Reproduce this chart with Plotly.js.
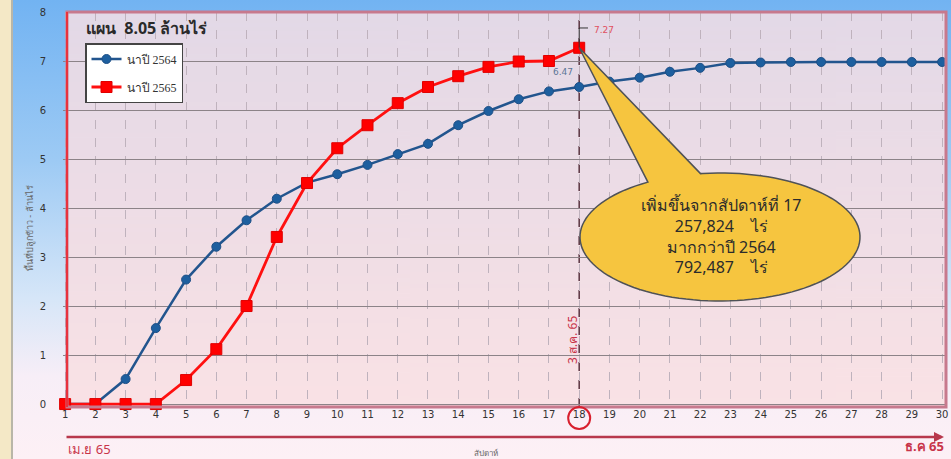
<!DOCTYPE html>
<html>
<head>
<meta charset="utf-8">
<script src="https://cdn.plot.ly/plotly-3.0.1.min.js"></script>
<style>
  html, body { margin: 0; padding: 0; }
  #wrap { position: relative; width: 951px; height: 459px; overflow: hidden;
    background: linear-gradient(to bottom, #72b3f2 0%, #9dcaf4 35%, #d6e6f8 65%, #f7eef7 82%, #fdf0f5 100%); }
  #strip { position: absolute; left: 0; top: 0; width: 11px; height: 459px; background: #f4e8c6; border-right: 2px solid #b9b6a8; }
  #chart { position: absolute; left: 0; top: 0; width: 951px; height: 459px; }
</style>
</head>
<body>
<div id="wrap"><div id="strip"></div><div id="chart"></div></div>
<script>
// ---- data ----
var weeks = [1,2,3,4,5,6,7,8,9,10,11,12,13,14,15,16,17,18,19,20,21,22,23,24,25,26,27,28,29,30];
var area2564 = [0,0,0.51,1.55,2.54,3.21,3.75,4.19,4.52,4.69,4.88,5.10,5.31,5.69,5.98,6.22,6.38,6.47,6.58,6.66,6.78,6.86,6.96,6.97,6.98,6.98,6.98,6.98,6.98,6.98];
var weeks2565 = [1,2,3,4,5,6,7,8,9,10,11,12,13,14,15,16,17,18];
var area2565 = [0,0,0,0,0.49,1.12,2.00,3.41,4.51,5.22,5.69,6.14,6.47,6.69,6.88,6.99,7.00,7.27];
var seriesNames = ['นาปี 2564', 'นาปี 2565'];
var yTicks = [0,1,2,3,4,5,6,7,8];
var currentWeek = 18;
var calloutLines = ['เพิ่มขึ้นจากสัปดาห์ที่ 17', '257,824\u00a0\u00a0\u00a0\u00a0ไร่', 'มากกว่าปี 2564', '792,487\u00a0\u00a0\u00a0\u00a0ไร่'];

// ---- geometry helpers ----
var ML = 63, MT = 12, PW = 883, PH = 395;
var XR = [0.93, 30.13], YR = [-0.06, 8.0];
function xp(px) { return (px - ML) / PW; }
function yp(py) { return (MT + PH - py) / PH; }
function xd(px) { return XR[0] + (px - ML) / PW * (XR[1] - XR[0]); }
function yd(py) { return YR[1] - (py - MT) / PH * (YR[1] - YR[0]); }

// plot background gradient
var cv = document.createElement('canvas'); cv.width = 4; cv.height = 200;
var cx = cv.getContext('2d');
var g = cx.createLinearGradient(0, 0, 0, 200);
g.addColorStop(0, '#e3d9e7'); g.addColorStop(0.5, '#eedde6'); g.addColorStop(1, '#fae2e5');
cx.fillStyle = g; cx.fillRect(0, 0, 4, 200);
var bgURL = cv.toDataURL();

// callout path (ellipse with tail), in data coordinates
var ecx = 720, ecy = 237, erx = 140, ery = 64;
var tipX = currentWeek, tipY = area2565[area2565.length - 1];
var pts = [];
for (var a = 121; a <= 458; a += 3) {
  var r = a * Math.PI / 180;
  pts.push([xd(ecx + erx * Math.cos(r)), yd(ecy - ery * Math.sin(r))]);
}
var r2 = 458 * Math.PI / 180;
pts.push([xd(ecx + erx * Math.cos(r2)), yd(ecy - ery * Math.sin(r2))]);
var path = 'M' + tipX + ',' + tipY;
pts.forEach(function (p) { path += ' L' + p[0].toFixed(4) + ',' + p[1].toFixed(4); });
path += ' Z';

var traces = [
  { x: weeks, y: area2564, name: seriesNames[0], type: 'scatter', mode: 'lines+markers',
    legendgroup: 'a', cliponaxis: false,
    line: { color: '#22558e', width: 2.5 },
    marker: { symbol: 'circle', size: 9, color: '#1d5f9f', line: { color: '#1d4f86', width: 1 } } },
  { x: weeks2565, y: area2565, name: seriesNames[1], type: 'scatter', mode: 'lines+markers',
    legendgroup: 'b', cliponaxis: false,
    line: { color: '#ff1010', width: 2.8 },
    marker: { symbol: 'square', size: 11, color: '#ff0000', line: { color: '#e00000', width: 1 } } }
];

var thai = 'Noto Sans, Tahoma, sans-serif';
var layout = {
  width: 951, height: 459,
  margin: { l: ML, r: 951 - ML - PW, t: MT, b: 459 - MT - PH },
  paper_bgcolor: 'rgba(0,0,0,0)', plot_bgcolor: 'rgba(0,0,0,0)',
  showlegend: true,
  legend: { x: xp(85), y: yp(43), xanchor: 'left', yanchor: 'top', bgcolor: '#ffffff',
    bordercolor: '#444', borderwidth: 1.5, tracegroupgap: 9, traceorder: 'grouped',
    font: { family: 'Liberation Serif, serif', size: 12, color: '#333' }, itemwidth: 30 },
  xaxis: { range: XR, tickmode: 'array', tickvals: weeks, ticktext: weeks.map(String),
    showgrid: true, gridcolor: '#bfb2bd', griddash: 'dash', gridwidth: 1,
    zeroline: false, showline: false, ticks: '',
    tickfont: { family: 'DejaVu Sans, sans-serif', size: 10, color: '#333' } },
  yaxis: { range: YR, tickmode: 'array', tickvals: yTicks, ticktext: yTicks.map(String),
    showgrid: true, gridcolor: '#8c8388', gridwidth: 1, zeroline: false, showline: false,
    ticks: '', ticklabelstandoff: 16,
    tickfont: { family: 'DejaVu Sans, sans-serif', size: 10, color: '#333' } },
  images: [{ source: bgURL, xref: 'paper', yref: 'paper', x: xp(67), y: 1, sizex: 1 - xp(67), sizey: 1,
    sizing: 'stretch', layer: 'below' }],
  shapes: [
    // plot frame
    { type: 'rect', xref: 'paper', yref: 'paper', x0: xp(67), x1: 1, y0: 0, y1: 1,
      line: { color: '#c7798d', width: 3 }, layer: 'above' },
    { type: 'line', xref: 'paper', yref: 'paper', x0: xp(67), x1: xp(67), y0: 0, y1: 1,
      line: { color: '#e8323e', width: 2 }, layer: 'above' },
    // current week dashed line
    { type: 'line', xref: 'x', yref: 'paper', x0: currentWeek, x1: currentWeek, y0: 0, y1: yp(20),
      line: { color: '#5a3440', width: 1.5, dash: 'dash' }, layer: 'below' },
    // leader line for 7.27
    { type: 'path', xref: 'x', yref: 'y',
      path: 'M' + currentWeek + ',' + tipY + ' L' + currentWeek + ',' + yd(28).toFixed(3) + ' L' + xd(588).toFixed(3) + ',' + yd(28).toFixed(3),
      line: { color: '#333', width: 1 } },
    // callout
    { type: 'path', xref: 'x', yref: 'y', path: path, fillcolor: '#f6c53f',
      line: { color: '#4f5257', width: 1.5 }, layer: 'above' },
    // circle around tick 18
    { type: 'circle', xref: 'x', yref: 'paper', xsizemode: 'pixel', ysizemode: 'pixel',
      xanchor: currentWeek, yanchor: yp(418), x0: -11, x1: 11, y0: -11, y1: 11,
      line: { color: '#d8202e', width: 2 } }
  ],
  annotations: [
    { text: '<b>แผน  8.05 ล้านไร่</b>', xref: 'paper', yref: 'paper', x: xp(84), y: yp(28),
      xanchor: 'left', yanchor: 'middle', showarrow: false,
      font: { family: thai, size: 16, color: '#2a2a2a' } },
    { text: '7.27', xref: 'paper', yref: 'paper', x: xp(592), y: yp(30), xanchor: 'left', yanchor: 'middle',
      showarrow: false, font: { family: 'DejaVu Sans, sans-serif', size: 9, color: '#e05060' } },
    { text: '6.47', xref: 'paper', yref: 'paper', x: xp(563), y: yp(72), xanchor: 'center', yanchor: 'middle',
      showarrow: false, font: { family: 'DejaVu Sans, sans-serif', size: 9, color: '#5d7696' } },
    { text: calloutLines.join('<br>'), xref: 'paper', yref: 'paper', x: xp(721), y: yp(236),
      xanchor: 'center', yanchor: 'middle', showarrow: false, align: 'center',
      font: { family: thai, size: 16, color: '#2b2b2b' } },
    { text: '3 ส.ค. 65', xref: 'paper', yref: 'paper', x: xp(572), y: yp(340), textangle: -90,
      xanchor: 'center', yanchor: 'middle', showarrow: false,
      font: { family: thai, size: 12, color: '#c8344a' } },
    { text: 'พื้นที่ปลูกข้าว - ล้านไร่', xref: 'paper', yref: 'paper', x: xp(29), y: yp(228), textangle: -90,
      xanchor: 'center', yanchor: 'middle', showarrow: false,
      font: { family: thai, size: 9, color: '#666' } },
    { text: 'สัปดาห์', xref: 'paper', yref: 'paper', x: xp(486), y: yp(452),
      xanchor: 'center', yanchor: 'middle', showarrow: false,
      font: { family: thai, size: 8, color: '#666' } },
    { text: 'เม.ย 65', xref: 'paper', yref: 'paper', x: xp(66), y: yp(449),
      xanchor: 'left', yanchor: 'middle', showarrow: false,
      font: { family: thai, size: 13, color: '#c8344a' } },
    { text: '<b>ธ.ค 65</b>', xref: 'paper', yref: 'paper', x: xp(946), y: yp(446),
      xanchor: 'right', yanchor: 'middle', showarrow: false,
      font: { family: thai, size: 13, color: '#c8344a' } },
    // period arrow
    { text: '', xref: 'paper', yref: 'paper', x: xp(944), y: yp(437),
      axref: 'pixel', ayref: 'pixel', ax: -879, ay: 0, showarrow: true,
      arrowhead: 2, arrowsize: 0.8, arrowwidth: 2.5, arrowcolor: '#b8384c', standoff: 0 }
  ]
};

Plotly.newPlot('chart', traces, layout, { displayModeBar: false, staticPlot: true });
</script>
</body>
</html>
